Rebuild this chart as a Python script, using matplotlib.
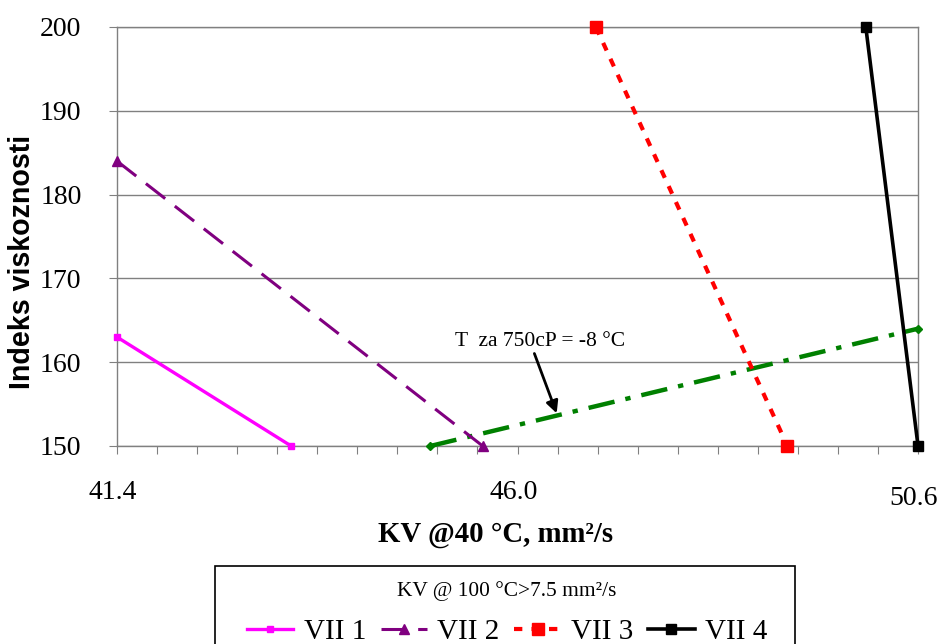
import matplotlib
matplotlib.use('agg')
import matplotlib.pyplot as plt
import matplotlib.transforms as mtransforms
from matplotlib.patches import Rectangle

# series values
vii1_x = [41.4, 43.4]
vii1_y = [163, 150]
vii2_x = [41.4, 45.6]
vii2_y = [184, 150]
vii3_x = [46.9, 49.1]
vii3_y = [200, 150]
vii4_x = [50.0, 50.6]
vii4_y = [200, 150]
temp_x = [45.0, 50.6]
temp_y = [150, 164]

series_names = ['VII 1', 'VII 2', 'VII 3', 'VII 4']
x_labels = ['41.4', '46.0', '50.6']
x_label_pos = [41.4, 46.0, 50.6]
y_ticks = [150, 160, 170, 180, 190, 200]

serif = 'Liberation Serif'
sans = 'Liberation Sans'

fig = plt.figure(figsize=(9.44, 6.44), dpi=100)
ax = fig.add_axes([0.1239, 0.3075, 0.8486, 0.6506])

ax.plot(vii1_x, vii1_y, color='#FF00FF', lw=2.4, marker='s', ms=5,
        label=series_names[0], zorder=5, clip_on=False)
ax.plot(vii2_x, vii2_y, color='#800080', lw=2.2, dashes=(8, 4), marker='^', ms=7,
        label=series_names[1], zorder=5, clip_on=False)
ax.plot(vii3_x, vii3_y, color='#FF0000', lw=3, dashes=(2, 2.2), marker='s', ms=8,
        label=series_names[2], zorder=5, clip_on=False)
ax.plot(vii4_x, vii4_y, color='black', lw=2.6, marker='s', ms=7.5,
        label=series_names[3], zorder=5, clip_on=False)
ax.plot(temp_x, temp_y, color='#008000', lw=3.2, dashes=(6, 2.5, 1.2, 2.5), marker='D', ms=4,
        zorder=4, clip_on=False, label='_nolegend_')

ax.set_xlim(41.4, 50.6)
ax.set_ylim(150, 200)

# gridlines and frame
ax.set_yticks(y_ticks)
ax.yaxis.grid(True, color='#808080', lw=1)
ax.set_axisbelow(True)
for sp in ax.spines.values():
    sp.set_color('#808080')
    sp.set_linewidth(1)

ax.tick_params(axis='y', direction='out', length=6, color='#808080', pad=19.5,
               labelsize=20)
for lbl in ax.get_yticklabels():
    lbl.set_family(serif)

# bottom axis: ticks every 0.46, labels placed by hand
ax.set_xticks([41.4 + 0.46 * i for i in range(21)])
ax.tick_params(axis='x', direction='out', length=6, color='#808080', labelbottom=False)

trans = mtransforms.blended_transform_factory(ax.transData, ax.transAxes)
trans = mtransforms.offset_copy(trans, fig=fig, x=-4, y=0, units='dots')
label_y = [-0.112, -0.112, -0.1265]
for pos, txt, yy in zip(x_label_pos, x_labels, label_y):
    ax.text(pos, yy, txt, transform=trans, ha='center', va='center',
            fontsize=20, family=serif)

ax.set_xlabel('KV @40 °C, mm²/s', family=serif, fontsize=20.7, fontweight='bold', va='center')
ax.xaxis.set_label_coords(0.472, -0.2124)
ax.set_ylabel('Indeks viskoznosti', family=sans, fontsize=20.6, fontweight='bold', va='center')
ax.yaxis.set_label_coords(-0.119, 0.44)

ax.annotate('T  za 750cP = -8 °C', xy=(46.45, 153.9), xytext=(46.26, 162.5),
            ha='center', va='center', fontsize=15.5, family=serif,
            arrowprops=dict(arrowstyle='-|>', color='black', lw=2, mutation_scale=18,
                            shrinkA=0, shrinkB=0, relpos=(0.46, 0.0)))

# legend box (cut by the bottom edge of the figure)
fig.patches.append(Rectangle((0.2278, -0.1), 0.6144, 0.2211, transform=fig.transFigure,
                             fill=False, edgecolor='black', lw=1.2))
leg = fig.legend(loc='upper center', bbox_to_anchor=(0.537, 0.1211),
                 ncol=4, title='KV @ 100 °C>7.5 mm²/s',
                 prop={'family': serif, 'size': 21},
                 title_fontproperties={'family': serif, 'size': 15.4},
                 frameon=False, handlelength=1.6, handletextpad=0.35,
                 columnspacing=0.5, borderpad=0, labelspacing=0.62)

fig.savefig('out.png', dpi=100, facecolor='white')
